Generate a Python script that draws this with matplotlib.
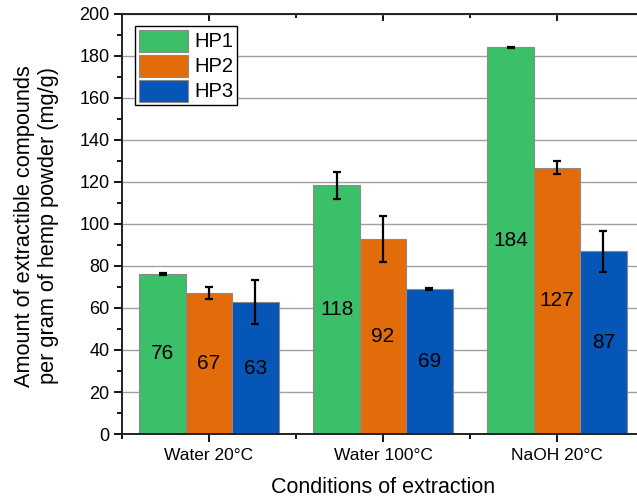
import matplotlib
matplotlib.use("Agg")
import matplotlib.pyplot as plt
import numpy as np
from matplotlib.ticker import MultipleLocator, FixedLocator

plt.rcParams['font.family'] = ['Liberation Sans', 'DejaVu Sans']

categories = ["Water 20°C", "Water 100°C", "NaOH 20°C"]
series = ["HP1", "HP2", "HP3"]
hp1 = [76.3, 118.4, 184.1]
hp2 = [67.0, 92.7, 126.8]
hp3 = [62.7, 69.0, 87.0]
hp1_err = [0.5, 6.3, 0.4]
hp2_err = [2.8, 11.0, 3.2]
hp3_err = [10.5, 0.3, 9.7]
bar_labels = [["76", "118", "184"], ["67", "92", "127"], ["63", "69", "87"]]
colors = ["#3CBF69", "#E36C0A", "#0656B8"]

W, H = 637, 498
fig = plt.figure(figsize=(W / 100, H / 100), dpi=100)
# axes extends past the right edge (cropped as in the reference)
ax = fig.add_axes([122 / W, (H - 434) / H, 522 / W, 420 / H])

x = np.arange(len(categories))
w = 0.8 / 3
vals = [hp1, hp2, hp3]
errs = [hp1_err, hp2_err, hp3_err]
for i, (v, e, c, name) in enumerate(zip(vals, errs, colors, series)):
    pos = x + (i - 1) * w
    ax.bar(pos, v, width=w, color=c, edgecolor="#8a8a8a", linewidth=0.8,
           label=name, zorder=2)
    ax.errorbar(pos, v, yerr=e, fmt="none", ecolor="black", elinewidth=1.6,
                capsize=3.2, capthick=1.6, zorder=3)
    for p, val, lab in zip(pos, v, bar_labels[i]):
        ax.text(p, val / 2, lab, ha="center", va="center", fontsize=15,
                color="black", zorder=4)

ax.set_xlim(-0.5, 2.5)
ax.set_ylim(0, 200)
ax.yaxis.set_major_locator(MultipleLocator(20))
ax.yaxis.set_minor_locator(MultipleLocator(10))
ax.set_xticks(x)
ax.set_xticklabels(categories)
ax.xaxis.set_minor_locator(FixedLocator([-0.5, 0.5, 1.5, 2.5]))

ax.grid(axis="y", which="major", color="#a0a0a0", linewidth=1.0, zorder=0)
ax.set_axisbelow(True)

for s in ax.spines.values():
    s.set_linewidth(1.4)
    s.set_color("#222222")

ax.tick_params(axis="y", which="major", direction="out", length=6, width=1.3,
               labelsize=13, pad=3, right=False)
ax.tick_params(axis="y", which="minor", direction="out", length=3.5, width=1.3,
               right=False)
ax.tick_params(axis="x", which="major", direction="out", length=6, width=1.3,
               labelsize=12.5, pad=4)
ax.tick_params(axis="x", which="minor", direction="out", length=3.5, width=1.3)
ax.tick_params(axis="x", which="major", top=True)
ax.tick_params(axis="x", which="minor", top=True)
# top ticks inward
for t in ax.xaxis.get_major_ticks():
    t.tick2line.set_marker(matplotlib.lines.TICKDOWN)
    t.tick2line.set_markersize(5)
for t in ax.xaxis.get_minor_ticks():
    t.tick2line.set_marker(matplotlib.lines.TICKDOWN)
    t.tick2line.set_markersize(3)

ax.set_xlabel("Conditions of extraction", fontsize=15.5)
ax.xaxis.set_label_coords((383 - 122) / 522, -(487 - 434) / 420)
ax.xaxis.label.set_va("center")
ax.set_ylabel("Amount of extractible compounds\nper gram of hemp powder (mg/g)",
              fontsize=15.7, linespacing=1.2)
ax.yaxis.set_label_coords(-(122 - 36.5) / 522, (434 - 226) / 420)
ax.yaxis.label.set_va("center")

leg = fig.legend(loc="upper left", bbox_to_anchor=(135 / W, 1 - 26 / H),
                 fontsize=14.5, handlelength=2.45, handleheight=1.3,
                 labelspacing=0.15, handletextpad=0.33, borderpad=0.18,
                 borderaxespad=0, fancybox=False, framealpha=1,
                 edgecolor="black")
leg.get_frame().set_linewidth(1.0)

fig.savefig("out.png", dpi=100)
